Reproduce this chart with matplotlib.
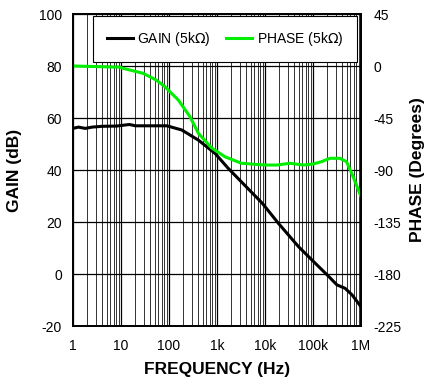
import matplotlib
matplotlib.use("Agg")
import matplotlib.pyplot as plt
from matplotlib.ticker import FixedLocator, NullFormatter

plt.rcParams['font.family'] = ['Liberation Sans', 'DejaVu Sans']
plt.rcParams['axes.unicode_minus'] = False

# gain curve (dB) vs frequency (Hz)
gain_freq = [1, 1.3, 1.8, 2.5, 4, 8, 15, 20, 50, 90, 184, 409, 910, 1720,
             8800, 19000, 50000, 95000, 214000, 316000, 466000, 650000, 1000000]
gain_db = [56.0, 56.5, 56.0, 56.5, 56.8, 56.9, 57.5, 57.0, 57.0, 57.0, 55.4, 51.5, 46.4, 40.6,
           27.2, 19.5, 10.5, 5.4, -1.0, -4.2, -5.5, -8.0, -12.6]

# phase curve (degrees) vs frequency (Hz)
phase_freq = [1, 9.5, 11, 28.7, 53.5, 83, 103, 156, 274, 409, 779, 1460, 3240,
              10000, 17600, 33000, 63000, 101000, 150000, 225000, 363000, 500000, 685000, 1000000]
phase_deg = [0, -1, -2, -6.3, -12, -18, -22, -29.4, -43.9, -58.2, -71, -78.5, -84.2,
             -85.7, -85.7, -84.2, -85.7, -84.8, -82.8, -79.9, -79.9, -82.8, -95.8, -113]

x_ticks = [1, 10, 100, 1e3, 1e4, 1e5, 1e6]
x_labels = ['1', '10', '100', '1k', '10k', '100k', '1M']
gain_ticks = [-20, 0, 20, 40, 60, 80, 100]
phase_ticks = [-225, -180, -135, -90, -45, 0, 45]

fig = plt.figure(figsize=(4.25, 3.88), dpi=100)
ax = fig.add_axes([73 / 425, 62 / 388, 288 / 425, 312 / 388])
ax2 = ax.twinx()

ax.set_xscale('log')
ax.set_xlim(1, 1e6)
ax.set_ylim(-20, 100)
ax2.set_ylim(-225, 45)

ax.xaxis.set_major_locator(FixedLocator(x_ticks))
ax.set_xticklabels(x_labels)
ax.xaxis.set_minor_locator(FixedLocator([m * d for d in x_ticks[:-1] for m in range(2, 10)]))
ax.xaxis.set_minor_formatter(NullFormatter())
ax.set_yticks(gain_ticks)
ax2.set_yticks(phase_ticks)

ax.grid(True, which='major', color='black', linewidth=0.9)
ax.grid(True, which='minor', axis='x', color='#333333', linewidth=0.7)

ax.tick_params(which='both', length=0, labelsize=10)
ax.tick_params(axis='x', pad=9)
ax.tick_params(axis='y', pad=8)
ax2.tick_params(length=0, labelsize=10, pad=9)

for a in (ax, ax2):
    for s in a.spines.values():
        s.set_linewidth(1.3)

ax2.plot(phase_freq, phase_deg, color='#00ee00', linewidth=2.2, label='PHASE (5k$\\Omega$)')
ax.plot(gain_freq, gain_db, color='black', linewidth=2.2, label='GAIN (5k$\\Omega$)')

h1, l1 = ax.get_legend_handles_labels()
h2, l2 = ax2.get_legend_handles_labels()
leg = ax2.legend(h1 + h2, l1 + l2, ncol=2, loc='upper left', mode='expand',
                 bbox_to_anchor=(0.069, 0.846, 0.917, 0.148),
                 fontsize=10, borderpad=1.0, handlelength=1.9, handletextpad=0.3,
                 borderaxespad=0, fancybox=False, framealpha=1, edgecolor='black')
leg.get_frame().set_linewidth(0.8)

ax.set_xlabel('FREQUENCY (Hz)', fontsize=12.5, fontweight='bold', labelpad=7)
ax.set_ylabel('GAIN (dB)', fontsize=12.5, fontweight='bold', labelpad=12)
ax2.set_ylabel('PHASE (Degrees)', fontsize=12.5, fontweight='bold', labelpad=6)

fig.savefig('out.png', dpi=100)
